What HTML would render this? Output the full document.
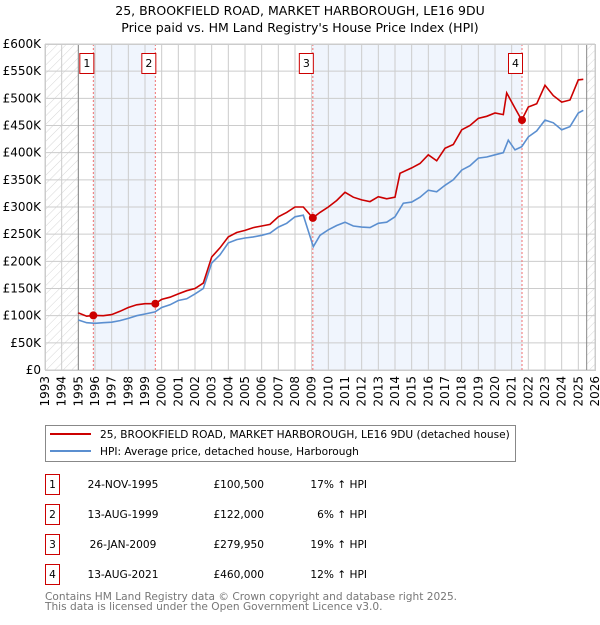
<!DOCTYPE html>
<html><head><meta charset="utf-8"><style>
body{margin:0;background:#fff;width:600px;height:620px;overflow:hidden}
svg text{font-family:"DejaVu Sans","Liberation Sans",sans-serif}
</style></head><body>
<svg id="chart" width="600" height="620" xmlns="http://www.w3.org/2000/svg">
<defs><pattern id="hatch" width="6" height="6" patternUnits="userSpaceOnUse" patternTransform="rotate(45)"><line x1="0" y1="0" x2="0" y2="6" stroke="#ccc" stroke-width="0.8"/></pattern></defs>
<text x="300" y="15" text-anchor="middle" font-size="12.5">25, BROOKFIELD ROAD, MARKET HARBOROUGH, LE16 9DU</text>
<text x="300" y="32" text-anchor="middle" font-size="12.5">Price paid vs. HM Land Registry's House Price Index (HPI)</text>
<g id="plot"></g>
<g>
<rect x="45.5" y="425.5" width="470" height="36" fill="#fff" stroke="#888"/>
<line x1="50" y1="434" x2="91" y2="434" stroke="#cc0000" stroke-width="2"/>
<text x="100" y="438" font-size="10.6">25, BROOKFIELD ROAD, MARKET HARBOROUGH, LE16 9DU (detached house)</text>
<line x1="50" y1="451" x2="91" y2="451" stroke="#5b8fd0" stroke-width="2"/>
<text x="100" y="455" font-size="10.6">HPI: Average price, detached house, Harborough</text>
</g>
<g id="table" font-size="10.6"></g>
<text x="45" y="600" font-size="10.6" fill="#777">Contains HM Land Registry data © Crown copyright and database right 2025.</text>
<text x="45" y="610" font-size="10.6" fill="#777">This data is licensed under the Open Government Licence v3.0.</text>
</svg>
<script>
const hpiYears=[1995,1995.5,1996,1996.5,1997,1997.5,1998,1998.5,1999,1999.6,2000,2000.5,2001,2001.5,2002,2002.5,2003,2003.5,2004,2004.5,2005,2005.5,2006,2006.5,2007,2007.5,2008,2008.5,2009.1,2009.5,2010,2010.5,2011,2011.5,2012,2012.5,2013,2013.5,2014,2014.5,2015,2015.5,2016,2016.5,2017,2017.5,2018,2018.5,2019,2019.5,2020,2020.5,2020.8,2021.2,2021.6,2022,2022.5,2023,2023.5,2024,2024.5,2025,2025.3];
const hpiValues=[92,87,86,87,88,91,95,100,103,107,115,120,128,131,140,150,197,212,234,240,243,245,248,252,263,270,282,285,227,248,258,266,272,265,263,262,270,272,282,307,309,318,331,328,340,350,368,376,390,392,396,400,423,405,411,429,440,460,455,442,448,473,478];
const ppYears=[1995,1995.5,1995.9,1996.5,1997,1997.5,1998,1998.5,1999,1999.6,2000,2000.5,2001,2001.5,2002,2002.5,2003,2003.5,2004,2004.5,2005,2005.5,2006,2006.5,2007,2007.5,2008,2008.5,2009.07,2009.5,2010,2010.5,2011,2011.5,2012,2012.5,2013,2013.5,2014,2014.3,2015,2015.5,2016,2016.5,2017,2017.5,2018,2018.5,2019,2019.5,2020,2020.5,2020.7,2021.2,2021.6,2022,2022.5,2023,2023.5,2024,2024.5,2025,2025.3];
const ppValues=[105,99,100.5,100,102,108,115,120,122,122,130,134,140,146,150,160,208,225,245,253,257,262,265,268,282,290,300,300,280,290,300,312,327,318,313,310,319,315,318,362,372,380,396,385,408,415,442,450,463,467,473,470,510,482,460,484,490,524,505,493,497,534,535];
const saleYears=[1995.9,1999.62,2009.07,2021.62];
const saleValues=[100.5,122,279.95,460];
const saleLabels=["1","2","3","4"];
const saleDates=["24-NOV-1995","13-AUG-1999","26-JAN-2009","13-AUG-2021"];
const salePrices=["£100,500","£122,000","£279,950","£460,000"];
const saleHpi=["17% ↑ HPI","6% ↑ HPI","19% ↑ HPI","12% ↑ HPI"];
const yTicks=[0,50,100,150,200,250,300,350,400,450,500,550,600];
const xTicks=[1993,1994,1995,1996,1997,1998,1999,2000,2001,2002,2003,2004,2005,2006,2007,2008,2009,2010,2011,2012,2013,2014,2015,2016,2017,2018,2019,2020,2021,2022,2023,2024,2025,2026];

const L=45,R=595,T=44,B=370,X0=1993,X1=2026;
const x=v=>L+(v-X0)/(X1-X0)*(R-L);
const y=v=>B-v/600*(B-T);
const NS="http://www.w3.org/2000/svg";
const g=document.getElementById('plot');
function mk(tag,attrs,parent){const e=document.createElementNS(NS,tag);for(const k in attrs)e.setAttribute(k,attrs[k]);(parent||g).appendChild(e);return e;}
let e;
e=mk('rect',{x:x(saleYears[0]),y:T,width:x(saleYears[1])-x(saleYears[0]),height:B-T,fill:'#f0f5fd'});


e=mk('rect',{x:x(saleYears[2]),y:T,width:x(saleYears[3])-x(saleYears[2]),height:B-T,fill:'#f0f5fd'});


e=mk('rect',{x:L,y:T,width:x(1995)-L,height:B-T,fill:'url(#hatch)'});


e=mk('rect',{x:x(2025.5),y:T,width:R-x(2025.5),height:B-T,fill:'url(#hatch)'});


yTicks.forEach(t=>{
 e=mk('line',{x1:L,x2:R,y1:y(t),y2:y(t),stroke:'#ccc','stroke-width':1});
 
 
 e=mk('text',{x:L-4,y:y(t)+4,'text-anchor':'end','font-size':'12'});
 e.textContent=t===0?'£0':'£'+t+'K';
 
 
});
xTicks.forEach(t=>{
 e=mk('line',{x1:x(t),x2:x(t),y1:T,y2:B,stroke:'#ccc','stroke-width':1});
 
 
 e=mk('text',{x:0,y:0,'text-anchor':'end','font-size':'12',transform:`translate(${x(t)+4},${B+6}) rotate(-90)`});
 e.textContent=t;
 
 
});
e=mk('line',{x1:x(1995),x2:x(1995),y1:T,y2:B,stroke:'#888'});


e=mk('line',{x1:x(2025.5),x2:x(2025.5),y1:T,y2:B,stroke:'#888'});


saleYears.forEach((s,i)=>{
 e=mk('line',{x1:x(s),x2:x(s),y1:T,y2:B,stroke:'#f07070','stroke-dasharray':'2,2'});
 
 
});
const pts=(xs,vs)=>xs.map((v,i)=>x(v).toFixed(1)+','+y(vs[i]).toFixed(1)).join(' ');
e=mk('polyline',{points:pts(hpiYears,hpiValues),fill:'none',stroke:'#5b8fd0','stroke-width':1.6});


e=mk('polyline',{points:pts(ppYears,ppValues),fill:'none',stroke:'#cc0000','stroke-width':1.6});


saleYears.forEach((s,i)=>{
 e=mk('circle',{cx:x(s),cy:y(saleValues[i]),r:4,fill:'#cc0000'});
 
 
 e=mk('rect',{x:x(s)-13.5,y:53.5,width:14,height:20,fill:'#fff',stroke:'#cc0000'});
 
 
 e=mk('text',{x:x(s)-6.5,y:67,'text-anchor':'middle','font-size':'11'});
 e.textContent=saleLabels[i];
 
 
});
e=mk('rect',{x:L+0.5,y:T+0.5,width:R-L,height:B-T,fill:'none',stroke:'#ccc'});


const tb=document.getElementById('table');
saleLabels.forEach((lab,i)=>{
 const cy=483+i*30;
 e=mk('rect',{x:45.5,y:cy-8.5,width:14,height:20,fill:'#fff',stroke:'#cc0000'},tb);
 
 
 e=mk('text',{x:52.5,y:cy+5,'text-anchor':'middle'},tb);e.textContent=lab;
 
 
 e=mk('text',{x:123,y:cy+5,'text-anchor':'middle'},tb);e.textContent=saleDates[i];
 
 
 e=mk('text',{x:264,y:cy+5,'text-anchor':'end'},tb);e.textContent=salePrices[i];
 
 
 e=mk('text',{x:367,y:cy+5,'text-anchor':'end'},tb);e.textContent=saleHpi[i];
 
 
});
</script>
</body></html>
